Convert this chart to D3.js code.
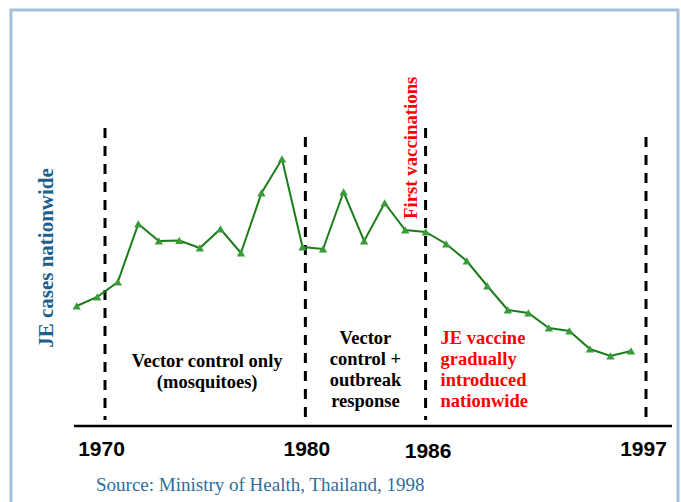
<!DOCTYPE html>
<html>
<head>
<meta charset="utf-8">
<script src="https://cdn.jsdelivr.net/npm/d3@7"></script>
<style>
  body { margin: 0; background: #fff; }
  svg { display: block; }
</style>
</head>
<body>
<svg id="chart"></svg>
<script>
"use strict";

// JE cases per year (no y axis in the original)
const years = [1969, 1970, 1971, 1972, 1973, 1974, 1975, 1976, 1977, 1978,
  1979, 1980, 1981, 1982, 1983, 1984, 1985, 1986, 1987, 1988,
  1989, 1990, 1991, 1992, 1993, 1994, 1995, 1996];
const cases = [1200, 1290, 1440, 2020, 1850, 1855, 1780, 1970, 1730, 2330,
  2670, 1790, 1770, 2340, 1850, 2230, 1960, 1940, 1820, 1650,
  1400, 1160, 1130, 980, 950, 770, 700, 750];

// period boundaries and their labels
const era_years = [1970, 1980, 1986, 1997];
const era_labels = ["1970", "1980", "1986", "1997"];

const note_vector = ["Vector control only", "(mosquitoes)"];
const note_outbreak = ["Vector", "control +", "outbreak", "response"];
const note_vaccine = ["JE vaccine", "gradually", "introduced", "nationwide"];
const note_first = "First vaccinations";
const y_title = "JE cases nationwide";
const source_text = "Source:  Ministry of Health, Thailand, 1998";

const chart_width = 681,
  chart_height = 502;

let chart_svg = d3.select("#chart")
  .attr("width", chart_width)
  .attr("height", chart_height);

const serif = "'Liberation Serif', 'Times New Roman', serif";
const sans = "'Liberation Sans', Arial, sans-serif";

// frame
chart_svg.append("rect")
  .attr("x", 11).attr("y", 10)
  .attr("width", 667).attr("height", 540)
  .attr("fill", "none")
  .attr("stroke", "#a3c1dc")
  .attr("stroke-width", 3);

// scales
let x_scale = d3.scaleLinear().domain([1969, 1996]).range([76.7, 631]);
let era_scale = d3.scaleLinear().domain([1970, 1997]).range([105, 646]);
let y_scale = d3.scaleLinear().domain([0, 3000]).range([426, 126]);

const axis_y = y_scale(0);

// dashed period lines
chart_svg.append("g").selectAll("line")
  .data(era_years)
  .enter().append("line")
  .attr("x1", d => era_scale(d)).attr("x2", d => era_scale(d))
  .attr("y1", (d, i) => i % 2 == 0 ? 128 : 137)
  .attr("y2", (d, i) => i % 2 == 0 ? 420 : axis_y)
  .attr("stroke", "#000")
  .attr("stroke-width", 3)
  .attr("stroke-dasharray", "10,8");

// bottom axis line
chart_svg.append("line")
  .attr("x1", 74).attr("x2", 672)
  .attr("y1", axis_y).attr("y2", axis_y)
  .attr("stroke", "#000")
  .attr("stroke-width", 2.5);

// year labels
let x_axis = chart_svg.append("g")
  .attr("transform", "translate(0," + axis_y + ")")
  .call(d3.axisBottom(era_scale)
    .tickValues(era_years)
    .tickSize(0)
    .tickPadding(0)
    .tickFormat((d, i) => era_labels[i]));

x_axis.select(".domain").remove();
x_axis.selectAll("text")
  .attr("y", (d) => d == 1986 ? 32 : 30)
  .attr("dy", null)
  .attr("dx", (d) => d == 1970 ? -4 : (d == 1986 ? 2 : (d == 1997 ? -3 : 1)))
  .attr("fill", "#000")
  .attr("font-family", sans)
  .attr("font-weight", "bold")
  .attr("font-size", "21px");

// data line + markers
let line_gen = d3.line()
  .x((d, i) => x_scale(years[i]))
  .y(d => y_scale(d));

chart_svg.append("path")
  .datum(cases)
  .attr("d", line_gen)
  .attr("fill", "none")
  .attr("stroke", "#1a7d1a")
  .attr("stroke-width", 2);

chart_svg.append("g").selectAll("path")
  .data(cases)
  .enter().append("path")
  .attr("d", d3.symbol(d3.symbolTriangle, 30))
  .attr("transform", (d, i) => "translate(" + x_scale(years[i]) + "," + (y_scale(d) + 1) + ")")
  .attr("fill", "#3a9b3a");

// annotations
const line_step = 21;

const add_block = function (lines, x, y0, anchor, color) {
  let t = chart_svg.append("text")
    .attr("font-family", serif)
    .attr("font-weight", "bold")
    .attr("font-size", "18.5px")
    .attr("fill", color)
    .attr("text-anchor", anchor);
  lines.forEach((s, i) => {
    t.append("tspan").attr("x", x).attr("y", y0 + i * line_step).text(s);
  });
};

add_block(note_vector, (era_scale(1970) + era_scale(1980)) / 2 + 2, 367, "middle", "#000");
add_block(note_outbreak, (era_scale(1980) + era_scale(1986)) / 2, 344, "middle", "#000");
add_block(note_vaccine, era_scale(1986) + 15, 344, "start", "#ff0000");

// rotated labels
chart_svg.append("text")
  .attr("transform", "translate(" + (era_scale(1986) - 9) + ",219) rotate(-90)")
  .attr("font-family", serif)
  .attr("font-weight", "bold")
  .attr("font-size", "18.8px")
  .attr("fill", "#ff0000")
  .text(note_first);

chart_svg.append("text")
  .attr("transform", "translate(53,258) rotate(-90)")
  .attr("text-anchor", "middle")
  .attr("font-family", serif)
  .attr("font-weight", "bold")
  .attr("font-size", "21px")
  .attr("fill", "#1d5f8c")
  .text(y_title);

// source
chart_svg.append("text")
  .attr("x", 96).attr("y", 491)
  .attr("font-family", serif)
  .attr("font-size", "19px")
  .attr("fill", "#2c6e9c")
  .text(source_text);
</script>
</body>
</html>
